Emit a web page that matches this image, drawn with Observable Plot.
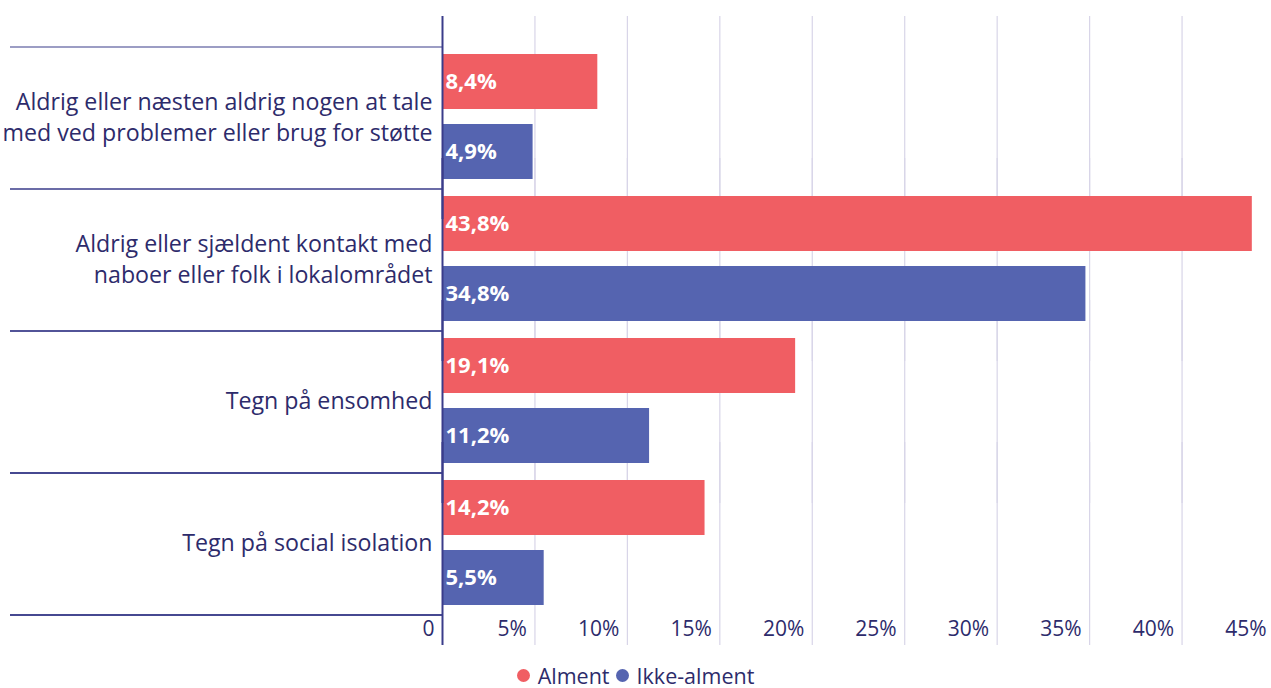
<!DOCTYPE html>
<html>
<head>
<meta charset="utf-8">
<script src="https://cdn.jsdelivr.net/npm/d3@7"></script>
<script src="https://cdn.jsdelivr.net/npm/@observablehq/plot@0.6"></script>
<style>
  html, body { margin: 0; padding: 0; background: #fff; }
  #chart { width: 1271px; height: 650px; overflow: hidden; }
  #chart svg { display: block; }
  .legend { width: 1271px; text-align: center; font-family: "Open Sans", sans-serif; font-size: 21.5px; color: #2d2b6b; margin-top: 13px; line-height: 22px; height: 22px; }
  .legend span { display: inline-flex; align-items: center; margin: 0 3px; }
  .legend i { display: inline-block; width: 13px; height: 13px; border-radius: 50%; margin-right: 8px; }
</style>
</head>
<body>
<div id="chart"></div>
<script>
const categories = [
  "Aldrig eller næsten aldrig nogen at tale\nmed ved problemer eller brug for støtte",
  "Aldrig eller sjældent kontakt med\nnaboer eller folk i lokalområdet",
  "Tegn på ensomhed",
  "Tegn på social isolation"
];
const series = ["Alment", "Ikke-alment"];
const alment = [8.4, 43.8, 19.1, 14.2];
const ikkeAlment = [4.9, 34.8, 11.2, 5.5];
const xTicks = [0, 5, 10, 15, 20, 25, 30, 35, 40, 45];
const colors = ["#f05e63", "#5564b0"];

const navy = "#2d2b6b";
const lineNavy = "#3a3c8a";
const gridColor = "#d8d5e8";
const font = "'Open Sans', sans-serif";

const data = categories.flatMap((c, i) => [
  {category: c, series: series[0], value: alment[i]},
  {category: c, series: series[1], value: ikkeAlment[i]}
]);

const fmt = v => v.toFixed(1).replace(".", ",") + "%";

function separators(index, scales, values, dimensions) {
  const g = d3.create("svg:g");
  const {marginTop, marginBottom, marginLeft, height} = dimensions;
  let bounds;
  const fy = scales.fy;
  if (fy && typeof fy === "function" && fy.bandwidth) {
    const bw = typeof fy.bandwidth === "function" ? fy.bandwidth() : fy.bandwidth;
    bounds = categories.map(c => fy(c));
    bounds.push(fy(categories[categories.length - 1]) + bw);
  } else {
    const step = (height - marginTop - marginBottom) / categories.length;
    bounds = d3.range(categories.length + 1).map(i => marginTop + i * step);
  }
  g.selectAll("line").data(bounds).join("line")
    .attr("x1", 10).attr("x2", marginLeft)
    .attr("y1", d => d).attr("y2", d => d)
    .attr("stroke", lineNavy).attr("stroke-width", 1.2);
  return g.node();
}

const chart = Plot.plot({
  width: 1271,
  height: 650,
  marginTop: 45,
  marginBottom: 36,
  marginLeft: 442,
  marginRight: 0,
  style: {fontFamily: font, fontSize: "20px", color: navy, background: "#fff"},
  x: {domain: [0, 45], range: [442, 1274]},
  fy: {domain: categories, padding: 0},
  y: {domain: series, paddingInner: 0.214, paddingOuter: 0.118, axis: null},
  color: {domain: series, range: colors},
  marks: [
    Plot.ruleX(xTicks.filter(t => t > 0), {stroke: gridColor, strokeWidth: 1.2, insetTop: -30, insetBottom: -31}),
    Plot.barX(data, {fy: "category", y: "series", x: "value", fill: "series"}),
    Plot.text(data, {fy: "category", y: "series", x: 0, text: d => fmt(d.value), textAnchor: "start", dx: 3, fill: "white", fontWeight: "bold", fontSize: 22}),
    Plot.ruleX([0], {stroke: lineNavy, strokeWidth: 2, insetTop: -30, insetBottom: -31}),
    separators,
    Plot.axisX(xTicks, {anchor: "bottom", tickSize: 0, tickPadding: 7, tickFormat: d => d === 0 ? "0" : d + "%", textAnchor: "end", dx: -8, fontSize: 21, fill: navy, label: null}),
    Plot.axisFy({anchor: "left", tickSize: 0, tickPadding: 10, dy: -2, fontSize: 23.2, lineHeight: 1.34, fill: navy, label: null})
  ]
});
document.getElementById("chart").appendChild(chart);

const legend = document.createElement("div");
legend.className = "legend";
series.forEach((s, i) => {
  const span = document.createElement("span");
  const dot = document.createElement("i");
  dot.style.background = colors[i];
  span.appendChild(dot);
  span.appendChild(document.createTextNode(s));
  legend.appendChild(span);
});
document.body.appendChild(legend);
</script>
</body>
</html>
